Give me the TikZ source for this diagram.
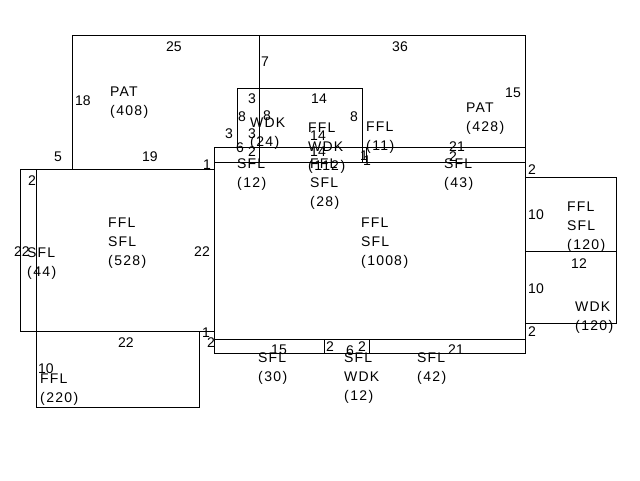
\documentclass[tikz,border=0pt]{standalone}
\usepackage{fontspec}
\setmainfont{Liberation Sans}
\newfontfamily\labfont[LetterSpace=8]{Liberation Sans}
\newcommand\pr[1]{(\kern1.6pt#1\kern1.6pt)}
\newcommand\roomlab[4]{%
  \foreach \t [count=\i] in {#4} {%
    \node[lab] (#1-\i) at (#2, #3+5+19*\i-19) {\t};
  }%
}
\begin{document}
\begin{tikzpicture}[x=1pt,y=-1pt,
  wall/.style={draw=black, line width=0.9pt},
  lab/.style={font=\labfont\fontsize{14}{16}\selectfont, inner sep=0pt, anchor=base west},
  dim/.style={font=\fontsize{14}{16}\selectfont, inner sep=0pt}]
\useasboundingbox (0,0) rectangle (640,480);
% walls
\draw[wall] (72,169) -- (72,35) -- (525,35) -- (525,353);
\draw[wall] (259,35) -- (259,162);
\draw[wall] (20,169) rectangle (214,331);
\draw[wall] (36,169) -- (36,407);
\draw[wall] (36,331) rectangle (199,407);
\draw[wall] (214,147) rectangle (525,353);
\draw[wall] (214,162) -- (525,162);
\draw[wall] (214,339) -- (525,339);
\draw[wall] (324,339) -- (324,353);
\draw[wall] (369,339) -- (369,353);
\draw[wall] (237,147) -- (237,88) -- (362,88) -- (362,162);
\draw[wall] (366,147) -- (366,162);
\draw[wall] (525,177) rectangle (616,323);
\draw[wall] (525,251) -- (616,251);
% room labels
\roomlab{pat1}{110}{91}{PAT,\pr{408}}
\roomlab{pat2}{466}{107}{PAT,\pr{428}}
\roomlab{wdk24}{250}{122}{WDK,\pr{24}}
\roomlab{r112}{308}{127}{FFL,WDK,\pr{112}}
\roomlab{r11}{366}{126}{FFL,\pr{11}}
\roomlab{r12a}{237}{163}{SFL,\pr{12}}
\roomlab{r28}{310}{163}{FFL,SFL,\pr{28}}
\roomlab{r43}{444}{163}{SFL,\pr{43}}
\roomlab{r528}{108}{222}{FFL,SFL,\pr{528}}
\roomlab{r44}{27}{252}{SFL,\pr{44}}
\roomlab{r1008}{361}{222}{FFL,SFL,\pr{1008}}
\roomlab{r120a}{567}{206}{FFL,SFL,\pr{120}}
\roomlab{r120b}{575}{306}{WDK,\pr{120}}
\roomlab{r220}{40}{378}{FFL,\pr{220}}
\roomlab{r30}{258}{357}{SFL,\pr{30}}
\roomlab{r12b}{344}{357}{SFL,WDK,\pr{12}}
\roomlab{r42}{417}{357}{SFL,\pr{42}}
% dimensions
\node[dim] (d1) at (174,47) {25};
\node[dim] (d2) at (400,47) {36};
\node[dim] (d3) at (265,62) {7};
\node[dim] (d4) at (83,101) {18};
\node[dim] (d5) at (513,93) {15};
\node[dim] (d6) at (58,157) {5};
\node[dim] (d7) at (150,157) {19};
\node[dim] (d8) at (207,165) {1};
\node[dim] (d9) at (252,99) {3};
\node[dim] (d10) at (319,99) {14};
\node[dim] (d11) at (242,117) {8};
\node[dim] (d12) at (267,116) {8};
\node[dim] (d13) at (354,117) {8};
\node[dim] (d14) at (229,134) {3};
\node[dim] (d15) at (252,134) {3};
\node[dim] (d16) at (240,148) {6};
\node[dim] (d17) at (252,152) {2};
\node[dim] (d18) at (318,136) {14};
\node[dim] (d19) at (318,152) {14};
\node[dim] (d20) at (364,156) {1};
\node[dim] (d21) at (367,161) {1};
\node[dim] (d22) at (457,147) {21};
\node[dim] (d23) at (453,157) {2};
\node[dim] (d24) at (532,170) {2};
\node[dim] (d25) at (536,215) {10};
\node[dim] (d26) at (579,264) {12};
\node[dim] (d27) at (536,289) {10};
\node[dim] (d28) at (532,332) {2};
\node[dim] (d29) at (126,343) {22};
\node[dim] (d30) at (46,369) {10};
\node[dim] (d31) at (206,333) {1};
\node[dim] (d32) at (211,343) {2};
\node[dim] (d33) at (279,350) {15};
\node[dim] (d34) at (330,347) {2};
\node[dim] (d35) at (350,351) {6};
\node[dim] (d36) at (362,347) {2};
\node[dim] (d37) at (456,350) {21};
\node[dim] (d38) at (32,181) {2};
\node[dim] (d39) at (22,252) {22};
\node[dim] (d40) at (202,252) {22};
\end{tikzpicture}
\end{document}
